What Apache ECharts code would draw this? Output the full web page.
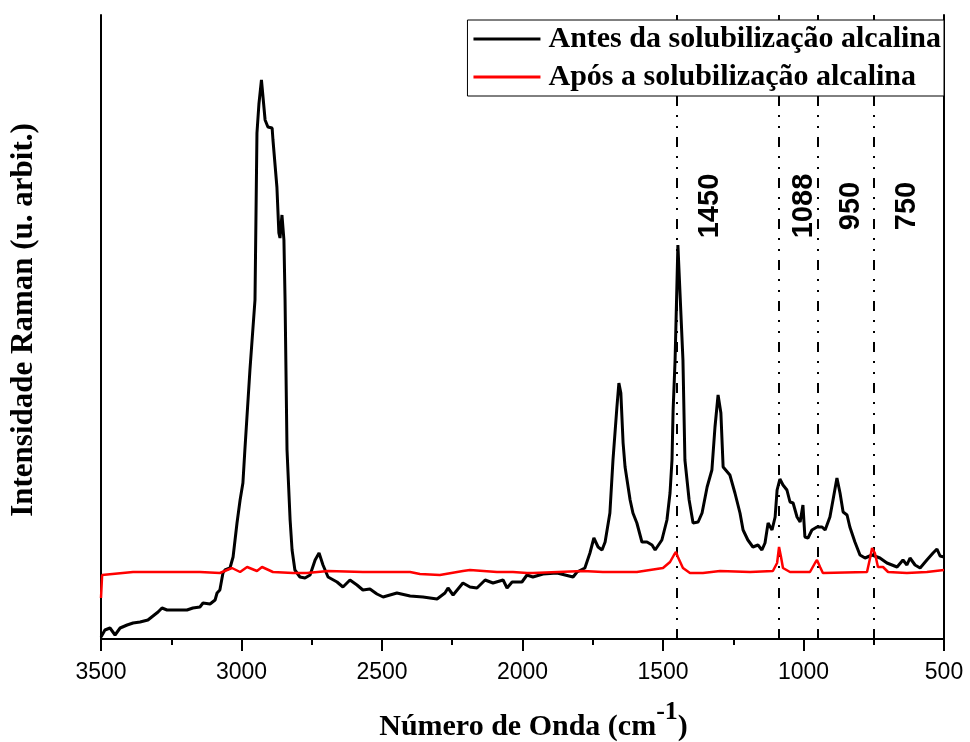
<!DOCTYPE html>
<html>
<head>
  <meta charset="utf-8">
  <title>Raman</title>
  <script src="https://cdn.jsdelivr.net/npm/echarts@6/dist/echarts.min.js"></script>
</head>
<body style="margin:0">
  <div id="container" style="height: 742px; width: 970px"></div>
  <script>
    // espectro antes da solubilizacao (numero de onda, intensidade u. arb.)
    var waveAntes = [3500, 3496, 3486, 3468, 3450, 3432, 3407, 3386, 3361, 3333, 3315, 3297, 3283, 3265, 3230, 3194, 3173, 3148, 3137, 3112,
      3094, 3087, 3077, 3066, 3059, 3041, 3030, 3023, 3016, 3005, 2995, 2988, 2970, 2952, 2945, 2938, 2929, 2916, 2906, 2891,
      2888, 2874, 2867, 2863, 2856, 2849, 2845, 2838, 2827, 2820, 2810, 2792, 2774, 2756, 2738, 2724, 2710, 2692, 2685, 2660,
      2639, 2614, 2589, 2568, 2543, 2518, 2496, 2447, 2400, 2354, 2304, 2276, 2265, 2247, 2212, 2187, 2162, 2133, 2105, 2069,
      2055, 2037, 2002, 1984, 1963, 1927, 1877, 1820, 1806, 1778, 1760, 1746, 1731, 1717, 1706, 1689, 1678, 1664, 1657, 1650,
      1642, 1635, 1617, 1607, 1593, 1575, 1557, 1550, 1539, 1528, 1504, 1486, 1475, 1468, 1464, 1457, 1447, 1429, 1422, 1407,
      1393, 1375, 1361, 1343, 1326, 1315, 1304, 1294, 1286, 1262, 1244, 1226, 1215, 1198, 1180, 1162, 1148, 1137, 1126, 1112,
      1101, 1094, 1084, 1073, 1059, 1048, 1037, 1023, 1012, 1002, 995, 984, 970, 952, 934, 923, 906, 895, 881, 870,
      859, 845, 835, 817, 799, 781, 756, 728, 703, 667, 646, 632, 621, 603, 585, 561, 539, 525, 514, 500];
    var intAntes = [2, 4, 9, 11, 4, 11, 14, 16, 17, 19, 23, 27, 31, 29, 29, 29, 31, 32, 36, 35,
      39, 46, 49, 66, 69, 71, 82, 99, 116, 139, 156, 189, 269, 339, 506, 535, 559, 519, 512, 511,
      499, 452, 406, 401, 424, 399, 339, 189, 119, 89, 69, 62, 61, 64, 79, 86, 74, 62, 61, 57,
      52, 59, 54, 49, 50, 45, 42, 46, 43, 42, 40, 46, 51, 44, 56, 52, 51, 59, 56, 59,
      51, 57, 57, 64, 62, 65, 66, 62, 67, 71, 86, 101, 92, 89, 97, 126, 179, 232, 256, 246,
      196, 172, 139, 126, 116, 97, 97, 99, 94, 89, 99, 119, 146, 179, 229, 279, 394, 279, 179, 139,
      116, 117, 126, 152, 169, 212, 244, 226, 172, 164, 146, 126, 109, 99, 92, 94, 89, 96, 116, 109,
      122, 149, 160, 154, 149, 137, 136, 122, 117, 134, 102, 101, 109, 112, 112, 109, 122, 139, 161, 146,
      127, 124, 112, 97, 84, 81, 84, 81, 76, 72, 79, 74, 81, 74, 71, 79, 86, 90, 83, 82];

    // espectro apos a solubilizacao
    var waveApos = [3500, 3496, 3386, 3265, 3148, 3077, 3034, 3005, 2980, 2945, 2927, 2888, 2817, 2767, 2692, 2568, 2400, 2365, 2294, 2212,
      2187, 2091, 2034, 1984, 1963, 1785, 1714, 1593, 1500, 1475, 1461, 1454, 1447, 1429, 1404, 1358, 1297, 1190, 1109, 1094,
      1087, 1080, 1073, 1048, 977, 959, 952, 941, 931, 774, 763, 756, 746, 735, 717, 699, 632, 561, 500];
    var intApos = [41, 64, 67, 67, 67, 66, 71, 67, 72, 68, 72, 67, 66, 66, 68, 67, 67, 65, 64, 68,
      69, 67, 67, 66, 66, 68, 67, 67, 71, 77, 84, 87, 82, 71, 66, 66, 68, 67, 68, 76,
      92, 82, 71, 67, 67, 76, 79, 72, 66, 67, 81, 91, 86, 72, 72, 67, 66, 67, 69];

    // bandas marcadas
    var bandas = [1450, 1088, 950, 750];
    var bandaLabels = ['1450', '1088', '950', '750'];

    var nomeAntes = 'Antes da solubilização alcalina';
    var nomeApos = 'Após a solubilização alcalina';

    function zip(xs, ys) {
      return xs.map(function (x, i) { return [x, ys[i]]; });
    }

    var serif = 'Liberation Serif';
    var sans = 'Liberation Sans';
    var labelY = 433;
    var labelOffsets = { '1088': 25 };

    var myChart = echarts.init(document.getElementById('container'));
    var option = {
      animation: false,
      backgroundColor: '#fff',
      grid: { left: 101, right: 26, top: 15, bottom: 103, outerBoundsMode: 'none' },
      legend: {
        data: [nomeAntes, nomeApos],
        orient: 'vertical',
        right: 26,
        top: 20,
        z: 20,
        padding: [4, 3, 4, 6],
        itemGap: 8,
        icon: 'rect',
        itemWidth: 67,
        itemHeight: 3,
        borderColor: '#000',
        borderWidth: 1,
        backgroundColor: '#fff',
        textStyle: { fontFamily: serif, fontWeight: 'bold', fontSize: 30, color: '#000', padding: [0, 0, 0, 3] }
      },
      xAxis: [
        {
          type: 'value',
          min: 500,
          max: 3500,
          interval: 500,
          inverse: true,
          position: 'bottom',
          axisLine: { lineStyle: { color: '#000', width: 2 } },
          axisTick: { length: 12, lineStyle: { color: '#000', width: 2 } },
          minorTick: { show: true, splitNumber: 2, length: 6, lineStyle: { color: '#000', width: 2 } },
          splitLine: { show: false },
          axisLabel: {
            fontFamily: sans, fontSize: 23, color: '#000', margin: 22,
            formatter: function (v) { return String(v); }
          },
          name: '{a|Número de Onda (cm}{sup|-1}{a|)}',
          nameLocation: 'middle',
          nameGap: 60,
          nameTextStyle: {
            padding: [0, 0, 0, 22],
            rich: {
              a: { fontFamily: serif, fontWeight: 'bold', fontSize: 30, color: '#000', verticalAlign: 'bottom' },
              sup: { fontFamily: serif, fontWeight: 'bold', fontSize: 26, color: '#000', verticalAlign: 'bottom', padding: [0, 0, 17, 0] }
            }
          }
        },
        {
          type: 'value',
          min: 500,
          max: 3500,
          interval: 500,
          inverse: true,
          position: 'top',
          axisLine: { lineStyle: { color: '#000', width: 2 } },
          axisTick: { inside: true, length: 4, lineStyle: { color: '#000', width: 1 } },
          minorTick: { show: true, splitNumber: 2, length: 3, lineStyle: { color: '#000', width: 1 } },
          splitLine: { show: false },
          axisLabel: { show: false }
        }
      ],
      yAxis: [
        {
          type: 'value',
          min: 0,
          max: 624,
          axisLine: { show: true, lineStyle: { color: '#000', width: 2 } },
          axisTick: { show: false },
          axisLabel: { show: false },
          splitLine: { show: false },
          name: 'Intensidade Raman (u. arbit.)',
          nameLocation: 'middle',
          nameGap: 62,
          nameTextStyle: { fontFamily: serif, fontWeight: 'bold', fontSize: 31, color: '#000', padding: [0, 0, 0, 14] }
        },
        {
          type: 'value',
          min: 0,
          max: 624,
          position: 'right',
          axisLine: { show: true, lineStyle: { color: '#000', width: 2 } },
          axisTick: { show: false },
          axisLabel: { show: false },
          splitLine: { show: false }
        }
      ],
      series: [
        {
          name: nomeAntes,
          type: 'line',
          data: zip(waveAntes, intAntes),
          showSymbol: false,
          symbol: 'none',
          color: '#000',
          lineStyle: { color: '#000', width: 3 },
          z: 3,
          markLine: {
            silent: true,
            symbol: 'none',
            z: 2,
            label: { show: false },
            lineStyle: { color: '#000', width: 2, type: [10, 9, 2, 9, 2, 9] },
            data: bandas.map(function (b) { return { xAxis: b }; })
          }
        },
        {
          name: nomeApos,
          type: 'line',
          data: zip(waveApos, intApos),
          showSymbol: false,
          symbol: 'none',
          color: '#ff0000',
          lineStyle: { color: '#ff0000', width: 2.5 },
          z: 3
        },
        {
          name: 'bandas',
          type: 'scatter',
          symbolSize: 0,
          silent: true,
          itemStyle: { opacity: 1 },
          data: bandas.map(function (b, i) {
            return {
              value: [b, labelY],
              label: {
                show: true,
                formatter: bandaLabels[i],
                position: 'inside',
                rotate: 90,
                offset: [0, labelOffsets[bandaLabels[i]] || 33],
                fontFamily: sans,
                fontWeight: 'bold',
                fontSize: 29,
                color: '#000',
                textBorderWidth: 0
              }
            };
          })
        }
      ]
    };
    myChart.setOption(option);
  </script>
</body>
</html>
